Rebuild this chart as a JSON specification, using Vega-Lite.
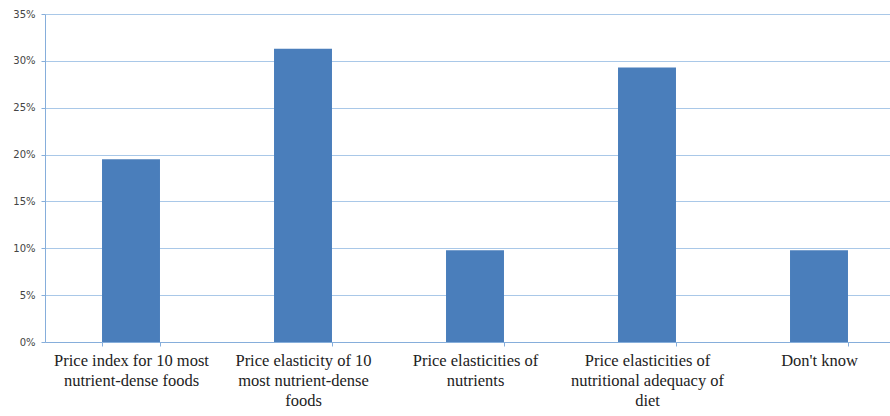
{
  "$schema": "https://vega.github.io/schema/vega-lite/v6.json",
  "autosize": {"type": "none"},
  "padding": {"left": 45, "top": 14, "right": 0, "bottom": 74},
  "width": 845,
  "height": 328,
  "background": "white",
  "data": {
    "values": [
      {"category": "Price index for 10 most nutrient-dense foods", "share": 0.195},
      {"category": "Price elasticity of 10 most nutrient-dense foods", "share": 0.313},
      {"category": "Price elasticities of nutrients", "share": 0.098},
      {"category": "Price elasticities of nutritional adequacy of diet", "share": 0.293},
      {"category": "Don't know", "share": 0.098}
    ]
  },
  "mark": {"type": "bar", "color": "#4A7EBB"},
  "encoding": {
    "x": {
      "field": "category",
      "type": "nominal",
      "sort": null,
      "scale": {"range": [0, 860], "paddingInner": 0.663, "paddingOuter": 0.3315},
      "axis": {
        "title": null,
        "labelAngle": 0,
        "tickBand": "extent",
        "tickSize": 4,
        "tickColor": "#86AEDB",
        "domainColor": "#86AEDB",
        "labelFont": "Liberation Serif",
        "labelFontSize": 16.5,
        "labelColor": "#222222",
        "labelBaseline": "top",
        "labelPadding": 6,
        "labelLineHeight": 20,
        "labelLimit": 0,
        "labelExpr": "({'Price index for 10 most nutrient-dense foods': ['Price index for 10 most', 'nutrient-dense foods'], 'Price elasticity of 10 most nutrient-dense foods': ['Price elasticity of 10', 'most nutrient-dense', 'foods'], 'Price elasticities of nutrients': ['Price elasticities of', 'nutrients'], 'Price elasticities of nutritional adequacy of diet': ['Price elasticities of', 'nutritional adequacy of', 'diet'], \"Don't know\": [\"Don't know\"]})[datum.value]"
      }
    },
    "y": {
      "field": "share",
      "type": "quantitative",
      "scale": {"domain": [0, 0.35], "nice": false},
      "axis": {
        "title": null,
        "values": [0, 0.05, 0.1, 0.15, 0.2, 0.25, 0.3, 0.35],
        "format": ".0%",
        "tickSize": 4,
        "tickColor": "#86AEDB",
        "domainColor": "#86AEDB",
        "gridColor": "#A9C8E8",
        "gridOpacity": 1,
        "labelFont": "DejaVu Sans",
        "labelFontSize": 10,
        "labelColor": "#444444",
        "labelPadding": 6
      }
    }
  },
  "config": {"view": {"stroke": null}}
}
